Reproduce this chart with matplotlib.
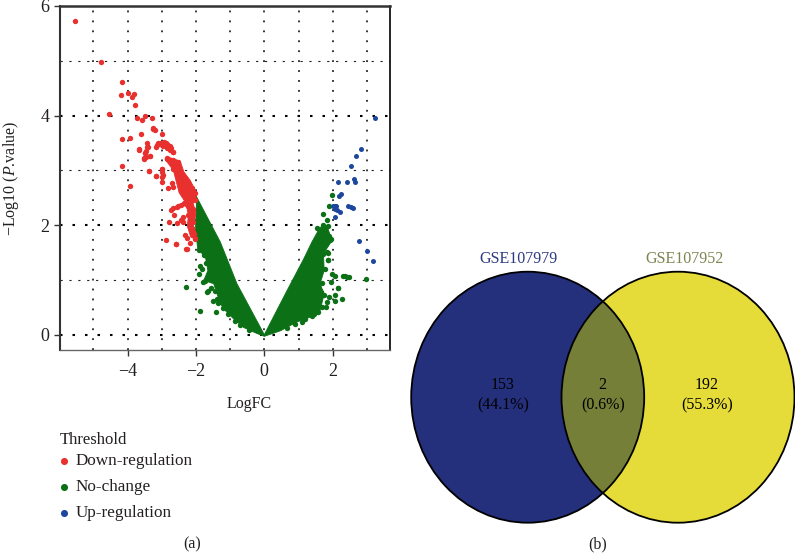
import matplotlib
matplotlib.use("Agg")
import matplotlib.pyplot as plt
from matplotlib.patches import Ellipse

plt.rcParams["font.family"] = ["Liberation Serif", "DejaVu Serif"]
plt.rcParams["mathtext.fontset"] = "custom"
plt.rcParams["mathtext.rm"] = "Liberation Serif"
plt.rcParams["mathtext.it"] = "Liberation Serif:italic"

# ---------------- VOLCANO DATA ----------------
down_x = [-5.53, -4.77, -4.17, -4.0, -3.8, -4.19, -3.87, -3.77, -4.53, -3.71, -3.49, -3.29, -3.58, -3.26, -3.2,
          -2.98, -3.61, -3.93, -4.17, -3.43, -3.39, -3.18, -3.05, -2.88, -2.76, -2.85, -2.66, -3.65, -3.49, -3.34,
          -3.51, -2.85, -2.61, -4.17, -2.98, -3.36, -2.95, -3.18, -2.85, -2.66, -2.51, -2.66, -2.51, -2.42, -2.51,
          -2.32, -2.42, -2.22, -2.32, -2.12, -2.22, -2.03, -2.12, -2.03, -2.17, -2.08, -2.17, -2.12, -2.22, -2.35,
          -2.51, -2.66, -2.22, -2.37, -2.09, -2.17, -2.08, -2.12, -2.32, -2.25, -2.03, -2.17, -2.29, -2.88, -2.59,
          -2.63, -2.79, -2.54, -2.37, -3.93, -3.36, -3.18, -2.98, -2.98, -2.98, -2.98, -2.71, -2.81, -2.66, -3.1,
          -3.0, -2.85, -2.77, -2.66, -3.44, -3.65, -3.49, -3.34, -3.51, -2.27, -2.58, -2.03, -2.12, -2.08,
          -3.24, -3.14, -2.95, -2.92, -2.72, -3.45, -3.47, -2.45, -2.56, -2.72, -2.45, -2.3]
down_y = [5.73, 4.98, 4.61, 4.42, 4.4, 4.37, 4.33, 4.2, 4.03, 3.96, 4.0, 3.96, 3.91, 3.78, 3.73,
          3.66, 3.67, 3.59, 3.57, 3.49, 3.43, 3.43, 3.49, 3.5, 3.45, 3.4, 3.34, 3.38, 3.31, 3.26,
          3.22, 3.21, 3.16, 3.08, 3.03, 2.99, 2.91, 2.9, 3.22, 3.19, 3.15, 3.03, 3.0, 2.94, 2.88,
          2.85, 2.76, 2.76, 2.67, 2.67, 2.58, 2.58, 2.49, 2.46, 2.4, 2.3, 2.27, 2.15, 2.34, 2.4,
          2.35, 2.32, 2.18, 2.14, 2.06, 1.96, 1.88, 1.82, 1.82, 1.76, 1.76, 1.67, 1.57, 1.72, 1.65,
          2.18, 2.06, 2.04, 2.05, 2.72, 2.99, 2.9, 3.03, 2.97, 2.88, 2.78, 2.76, 2.67, 2.7, 3.49,
          3.46, 3.48, 3.38, 3.34, 3.43, 3.39, 3.31, 3.26, 3.2, 1.57, 1.65, 1.74, 1.94, 1.84,
          3.75, 3.47, 3.44, 3.52, 3.41, 3.36, 3.24, 2.37, 2.33, 2.27, 2.1, 2.38]

# dense part of the down-regulated band, as an outline
band_x = [-2.85, -2.46, -2.35, -2.17, -1.96, -2.08, -2.0, -2.08, -1.96, -2.17, -2.25, -2.22, -2.29, -2.49, -2.56, -2.66, -2.9]
band_y = [3.25, 3.17, 2.97, 2.82, 2.57, 2.4, 2.21, 1.97, 1.82, 1.82, 1.98, 2.18, 2.4, 2.59, 2.76, 3.0, 3.2]

up_x = [3.24, 2.84, 2.67, 2.54, 2.63, 2.65, 2.43, 2.16, 2.23, 2.18, 2.07, 2.0, 2.11, 2.07, 2.13, 2.21, 2.46, 2.6,
        2.07, 2.76, 2.99, 3.17, 2.53]
up_y = [3.95, 3.39, 3.26, 3.08, 2.84, 2.78, 2.78, 2.78, 2.57, 2.53, 2.35, 2.35, 2.35, 2.29, 2.27, 2.24, 2.34, 2.32,
        2.15, 1.71, 1.53, 1.34, 2.33]

# no-change points away from the solid mass
nochange_x = [1.99, 1.82, 1.73, 1.9, 1.71, 1.92, 1.85, 1.85, 1.99, 2.07, 2.36, 2.48, 2.96, 1.96, 2.15,
              -2.29, -1.87, -1.8, -1.67, -1.51, -1.35, -1.87, -1.41, -1.9,
              2.15, 2.07, 2.28, 1.9, 2.07, 1.82, 1.8, 1.58, 1.39, 1.09, 1.84, 1.87,
              -1.75, -1.7, -1.62, -1.72, -1.55, -1.45, -1.38, -1.22, -1.05, -0.85, -0.7, -0.45,
              1.85, 1.95, 1.8, 1.72, 1.62, 1.78, 1.7, 1.62, 1.75, 1.68, 1.45, 1.2, 0.9, 0.65, 1.9, 1.75, 1.55,
              2.42, 2.3, 1.66, -1.64, -1.9, -1.83]
nochange_y = [2.55, 2.09, 2.21, 2.35, 2.0, 1.73, 1.49, 1.36, 1.11, 1.08, 1.07, 1.05, 1.02, 0.97, 0.86,
              0.87, 1.25, 0.97, 0.78, 0.61, 0.58, 0.43, 0.42, 1.54,
              0.86, 0.72, 0.66, 0.68, 0.61, 0.6, 0.51, 0.42, 0.34, 0.24, 1.5, 1.36,
              1.45, 1.3, 1.1, 0.98, 0.85, 0.8, 0.65, 0.48, 0.38, 0.25, 0.17, 0.08,
              1.98, 1.75, 1.65, 1.48, 1.3, 1.2, 0.95, 0.8, 0.72, 0.5, 0.38, 0.28, 0.2, 0.12, 1.8, 1.85, 1.95,
              1.05, 1.07, 0.78, 0.79, 1.1, 1.2]

# outline of the solid green mass, left and right arm
mass_left_x = [0, -0.8, -1.285, -2.0, -1.985, -2.01, -1.95, -1.72, -1.65, -1.77, -1.48, -1.38, -1.28, -1.14, -0.9, -0.6, -0.21, 0]
mass_left_y = [0, 0.93, 1.69, 2.54, 2.39, 1.96, 1.57, 1.41, 1.17, 0.99, 0.93, 0.74, 0.56, 0.44, 0.29, 0.13, 0.02, -0.03]
mass_right_x = [0, 0.66, 1.15, 1.39, 1.63, 1.83, 1.98, 1.73, 1.75, 1.63, 1.75, 1.63, 1.34, 0.95, 0.47, 0]
mass_right_y = [0, 0.8, 1.38, 1.69, 1.96, 1.99, 1.72, 1.48, 1.17, 0.93, 0.74, 0.44, 0.32, 0.23, 0.07, -0.03]

x_ticks = [-4, -2, 0, 2]
x_minor = [-5, -3, -1, 1, 3]
y_ticks = [0, 2, 4, 6]
y_minor = [1, 3, 5]

# ---------------- VENN DATA ----------------
set_names = ["GSE107979", "GSE107952"]
venn_counts = ["153", "2", "192"]
venn_pcts = ["(44.1%)", "(0.6%)", "(55.3%)"]

RED = "#e8302e"
GREEN = "#0b7016"
BLUE = "#1d479e"
TXT = "#231f20"

W, H = 795, 553
fig = plt.figure(figsize=(W / 100, H / 100), dpi=100)

# page axes in pixels, for the venn and loose text
page = fig.add_axes([0, 0, 1, 1])
page.set_xlim(0, W)
page.set_ylim(H, 0)
page.axis("off")

# ---------------- VOLCANO ----------------
ax = fig.add_axes([60.3 / W, (H - 350) / H, (390 - 60.3) / W, (350 - 6) / H])
ax.set_xlim(-5.965, 3.675)
ax.set_ylim(-0.28, 6.0)

ax.set_xticks(x_ticks)
ax.set_xticks(x_minor, minor=True)
ax.set_yticks(y_ticks)
ax.set_yticks(y_minor, minor=True)
ax.set_xticklabels(["\u22124", "\u22122", "0", "2"])
ax.tick_params(which="minor", length=0)
ax.tick_params(which="major", length=4, width=1, color="#333333", labelsize=13, labelcolor=TXT, pad=4)
ax.tick_params(axis="x", which="major", pad=5)

ax.grid(True, which="major", axis="y", color="black", lw=1.5, linestyle=(0, (1.2, 4.8)))
ax.grid(True, which="major", axis="x", color="black", lw=1.1, linestyle=(0, (1.2, 5.3)))
ax.grid(True, which="minor", axis="x", color="black", lw=1.1, linestyle=(0, (1.2, 5.3)))
ax.grid(True, which="minor", axis="y", color="#222222", lw=0.8, linestyle=(0, (2, 6)))
ax.set_axisbelow(True)

ax.fill(mass_left_x, mass_left_y, color=GREEN, lw=0.6, zorder=2)
ax.fill(mass_right_x, mass_right_y, color=GREEN, lw=0.6, zorder=2)
ax.scatter(nochange_x, nochange_y, s=15, color=GREEN, lw=0, zorder=3)
ax.fill(band_x, band_y, color=RED, lw=0.6, zorder=4)
ax.scatter(down_x, down_y, s=15, color=RED, lw=0, zorder=4)
ax.scatter(up_x, up_y, s=13, color=BLUE, lw=0, zorder=4)

ax.spines["left"].set_linewidth(1.5)
ax.spines["left"].set_color("#333333")
ax.spines["top"].set_linewidth(1.8)
ax.spines["top"].set_color("#333333")
ax.spines["right"].set_linewidth(1.2)
ax.spines["right"].set_color("black")
ax.spines["bottom"].set_linewidth(1)
ax.spines["bottom"].set_color("#666666")

page.text(11, 178, "\u2212Log10 ($\\mathit{P}$.value)", rotation=90, ha="center", va="center",
          fontsize=11.5, color=TXT)
page.text(249, 404, "LogFC", ha="center", va="center", fontsize=11.5, color=TXT)

# ---------------- LEGEND ----------------
page.text(60, 440, "Threshold", ha="left", va="center", fontsize=12, color=TXT)
legend_names = ["Down-regulation", "No-change", "Up-regulation"]
legend_cols = [RED, GREEN, BLUE]
legend_rows = [461, 487, 513]
for name, col, row in zip(legend_names, legend_cols, legend_rows):
    page.scatter([63.5], [row], s=26, color=col, lw=0)
    page.text(76, row, name, ha="left", va="center", fontsize=12.3, color=TXT)

page.text(192, 544, "(a)", ha="center", va="center", fontsize=11.5, color=TXT)
page.text(598, 544, "(b)", ha="center", va="center", fontsize=11.5, color=TXT)

# ---------------- VENN ----------------
cy, rx, ry = 397.2, 116.5, 125.5
left_c, right_c = 527.7, 678.0
left = Ellipse((left_c, cy), 2 * rx, 2 * ry, fc="#24307c", ec="none")
right = Ellipse((right_c, cy), 2 * rx, 2 * ry, fc="#e5dc3a", ec="none")
page.add_patch(left)
page.add_patch(right)
both = Ellipse((right_c, cy), 2 * rx, 2 * ry, fc="#767f38", ec="none")
page.add_patch(both)
both.set_clip_path(left)
page.add_patch(Ellipse((left_c, cy), 2 * rx, 2 * ry, fc="none", ec="black", lw=1.3))
page.add_patch(Ellipse((right_c, cy), 2 * rx, 2 * ry, fc="none", ec="black", lw=1.3))

page.text(519, 259, set_names[0], ha="center", va="center", fontsize=11.5, color="#2d3a80")
page.text(684, 259, set_names[1], ha="center", va="center", fontsize=11.5, color="#7d8450")
for cx, n, p in zip([502.7, 602.7, 706.7], venn_counts, venn_pcts):
    page.text(cx, 385, n, ha="center", va="center", fontsize=11.5, color="black")
    page.text(cx, 405, p, ha="center", va="center", fontsize=11.5, color="black")

fig.savefig("out.png", dpi=100)
